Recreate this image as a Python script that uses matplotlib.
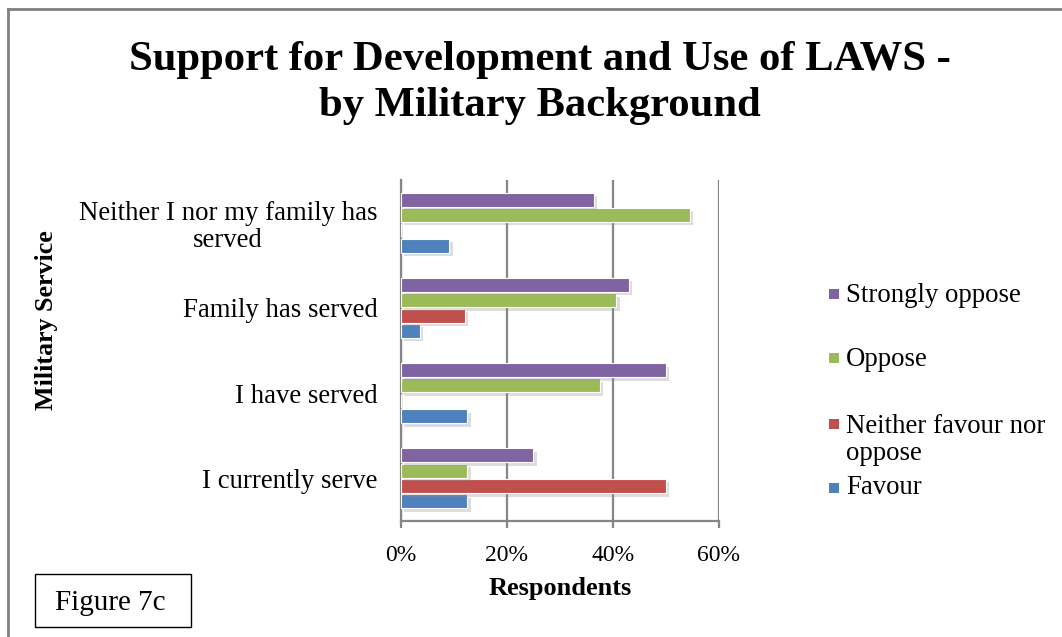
import numpy as np
import matplotlib.pyplot as plt
import matplotlib.patheffects as pe
from matplotlib.patches import Rectangle
from matplotlib.lines import Line2D

plt.rcParams['font.family'] = ['Liberation Serif', 'DejaVu Serif']

# groups listed bottom to top
groups = ['I currently serve', 'I have served', 'Family has served',
          'Neither I nor my family has\nserved']
series = ['Favour', 'Neither favour nor\noppose', 'Oppose', 'Strongly oppose']
colors = ['#4F81BD', '#C0504D', '#9BBB59', '#8064A2']

favour = [12.5, 12.5, 3.5, 9.1]
neither = [50.0, 0.0, 12.0, 0.0]
oppose = [12.5, 37.5, 40.6, 54.5]
strongly = [25.0, 50.0, 43.0, 36.4]
values = [favour, neither, oppose, strongly]

fig = plt.figure(figsize=(10.62, 6.37), dpi=100)
ax = fig.add_axes([0.3776, 0.1821, 0.2994, 0.5353])

y = np.arange(len(groups))
step = 0.18
shadow = [pe.SimplePatchShadow(offset=(2.5, -2.5), shadow_rgbFace='#909090', alpha=0.3),
          pe.Normal()]
for i, (vals, col) in enumerate(zip(values, colors)):
    bars = ax.barh(y + (i - 1.5) * step, np.array(vals) / 100, height=0.165,
                   color=col, edgecolor='white', linewidth=0.8, zorder=3)
    for b in bars:
        if b.get_width() > 0:
            b.set_path_effects(shadow)

ax.set_xlim(0, 0.6)
ax.set_ylim(-0.5, len(groups) - 0.5)
ax.set_xticks([0, 0.2, 0.4, 0.6])
ax.set_xticklabels(['0%', '20%', '40%', '60%'])
ax.set_yticks(y)
ax.set_yticklabels(groups, multialignment='center', linespacing=1.1)
ax.grid(axis='x', color='#868686', linewidth=1.6, zorder=0)
for s in ['top', 'right']:
    ax.spines[s].set_visible(False)
for s in ['left', 'bottom']:
    ax.spines[s].set_color('#868686')
    ax.spines[s].set_linewidth(1.6)
ax.tick_params(axis='x', length=5, width=1.6, color='#868686', pad=12, labelsize=17)
ax.tick_params(axis='y', length=0, pad=17, labelsize=19.3)

ax.set_xlabel('Respondents', fontsize=19, fontweight='bold', labelpad=8)
fig.text(47 / 1062, 1 - 320 / 637, 'Military Service', rotation=90, fontsize=18.7,
         fontweight='bold', ha='center', va='center')

fig.text(540 / 1062, 1 - 83 / 637, 'Support for Development and Use of LAWS -\nby Military Background',
         ha='center', va='center', fontsize=30.7, fontweight='bold', linespacing=1.3)

# legend, top entry first
leg_y = [295, 359, 440, 488]
sq_y = [294, 358, 424, 488]
for lab, col, ty, sy in zip(series[::-1], colors[::-1], leg_y, sq_y):
    fig.patches.append(Rectangle((829 / 1062, 1 - (sy + 5) / 637), 10 / 1062, 10 / 637,
                                 transform=fig.transFigure, facecolor=col, edgecolor='none'))
    fig.text(846 / 1062, 1 - ty / 637, lab, ha='left', va='center', fontsize=19.3,
             linespacing=1.1)

# outer frame (top and left edges)
fig.add_artist(Line2D([8 / 1062, 8 / 1062], [1 - 9 / 637, 0], transform=fig.transFigure,
                      color='#808080', linewidth=2))
fig.add_artist(Line2D([8 / 1062, 1], [1 - 9 / 637, 1 - 9 / 637], transform=fig.transFigure,
                      color='#808080', linewidth=2))

# figure number box
fig.patches.append(Rectangle((35 / 1062, 10 / 637), 156 / 1062, 53 / 637,
                             transform=fig.transFigure, facecolor='white',
                             edgecolor='black', linewidth=1))
fig.text(110 / 1062, 1 - 603 / 637, 'Figure 7c', ha='center', va='center', fontsize=21)

fig.savefig('out.png', dpi=100)
